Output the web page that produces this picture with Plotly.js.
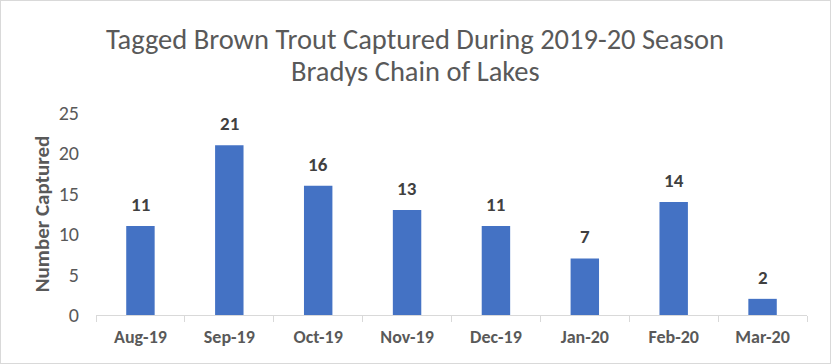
<!DOCTYPE html>
<html>
<head>
<meta charset="utf-8">
<script src="https://cdn.plot.ly/plotly-3.0.1.min.js"></script>
<style>
  html, body { margin: 0; padding: 0; background: #fff; }
  #chart { width: 831px; height: 364px; box-sizing: border-box; border: 1px solid #d9d9d9; }
</style>
</head>
<body>
<div id="chart"></div>
<script>
const months = ["Aug-19", "Sep-19", "Oct-19", "Nov-19", "Dec-19", "Jan-20", "Feb-20", "Mar-20"];
const captured = [11, 21, 16, 13, 11, 7, 14, 2];
const yTicks = [0, 5, 10, 15, 20, 25];
const titleLine1 = "Tagged Brown Trout Captured During 2019-20 Season";
const titleLine2 = "Bradys Chain of Lakes";

const FONT = "Carlito, 'Liberation Sans Narrow', 'Open Sans', sans-serif";

const trace = {
  type: "bar",
  x: months,
  y: captured,
  marker: { color: "#4472C4" },
  hoverinfo: "x+y"
};

const annotations = months.map((m, i) => ({
  x: m, y: captured[i], xref: "x", yref: "y",
  text: String(captured[i]), showarrow: false,
  yanchor: "bottom", yshift: 8,
  font: { family: FONT, size: 19, color: "#404040", weight: "bold" }
}));

const W = 829, H = 362, T = 112, B = 48, L = 95, R = 23;
const plotH = H - T - B;
const plotW = W - L - R;
annotations.push({
  x: (414 - L) / plotW, xref: "paper", xanchor: "center",
  y: (H - B - 70) / plotH, yref: "paper", yanchor: "middle",
  text: titleLine2, showarrow: false,
  font: { family: FONT, size: 28.5, color: "#595959" }
});

const layout = {
  width: W, height: H,
  margin: { l: L, r: R, t: T, b: B },
  paper_bgcolor: "#fff",
  plot_bgcolor: "#fff",
  bargap: 0.68,
  showlegend: false,
  title: {
    text: titleLine1,
    x: 414 / W, xanchor: "center", xref: "container",
    y: 1 - 38 / H, yanchor: "middle", yref: "container",
    font: { family: FONT, size: 28.5, color: "#595959" }
  },
  xaxis: {
    type: "category",
    showline: true, linecolor: "#d9d9d9", linewidth: 1,
    ticks: "outside", ticklen: 6, tickcolor: "#d9d9d9",
    tickson: "boundaries",
    ticklabelstandoff: 5,
    showgrid: false,
    tickfont: { family: FONT, size: 18, color: "#595959", weight: "bold" }
  },
  yaxis: {
    range: [0, 25],
    tickvals: yTicks,
    showgrid: false, zeroline: false, showline: false,
    ticks: "", ticklen: 0,
    ticklabelstandoff: 16,
    tickfont: { family: FONT, size: 20, color: "#595959" },
    title: {
      text: "Number Captured", standoff: 3,
      font: { family: FONT, size: 21, color: "#595959", weight: "bold" }
    }
  },
  annotations: annotations
};

Plotly.newPlot("chart", [trace], layout, { displayModeBar: false, staticPlot: true });
</script>
</body>
</html>
